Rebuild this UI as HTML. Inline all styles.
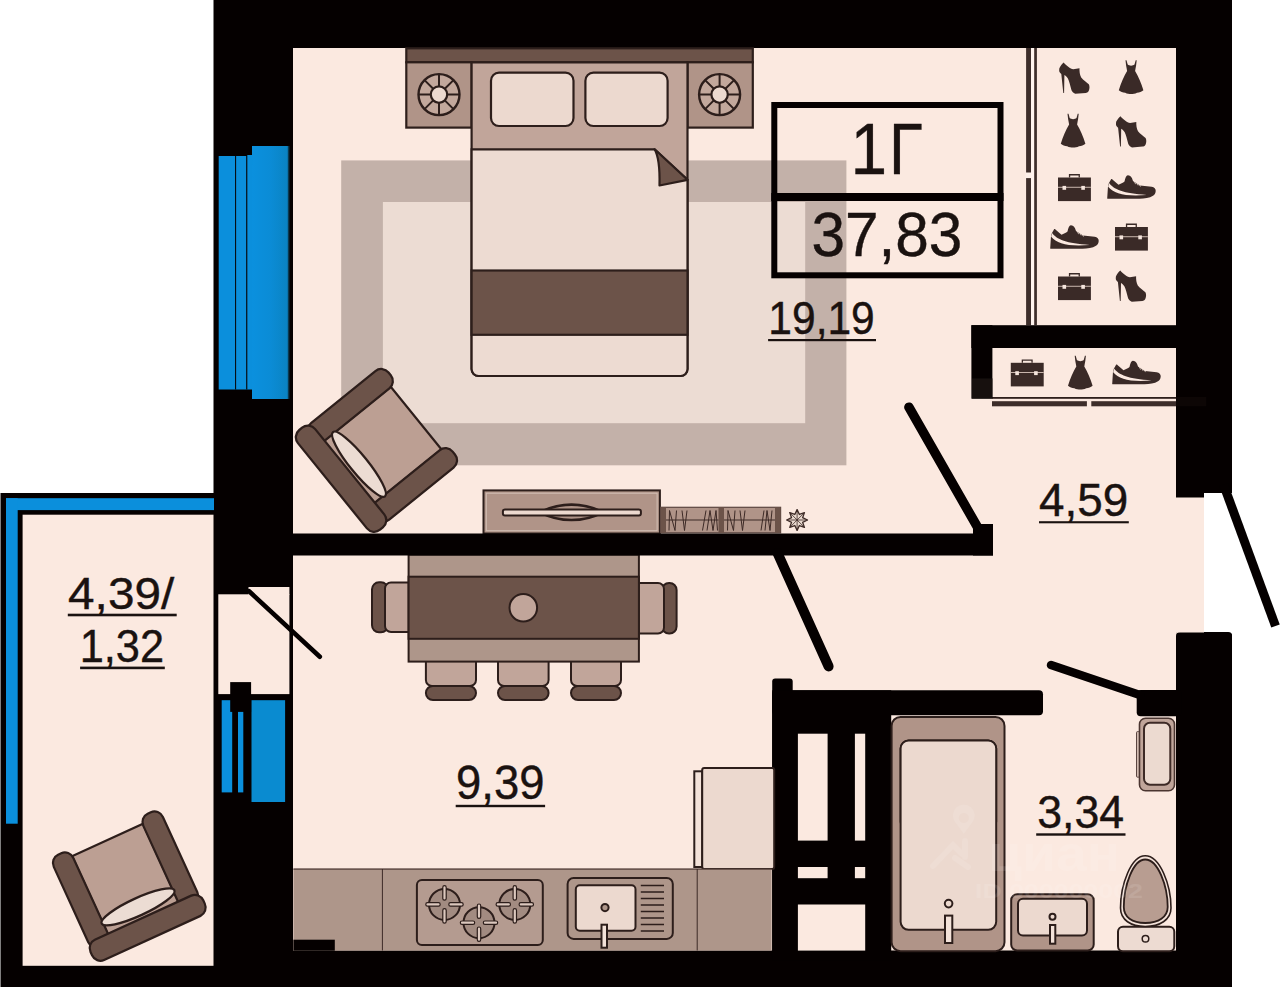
<!DOCTYPE html>
<html><head><meta charset="utf-8">
<style>
html,body{margin:0;padding:0;background:#fff;width:1280px;height:987px;overflow:hidden}
svg{display:block}
text{font-family:"Liberation Sans",sans-serif}
</style></head>
<body>
<svg width="1280" height="987" viewBox="0 0 1280 987">
<defs>
<linearGradient id="bluegrad" x1="0" y1="0" x2="1" y2="0"><stop offset="0" stop-color="#0b90de"/><stop offset="0.5" stop-color="#0b8cd6"/><stop offset="1" stop-color="#0a83c2"/></linearGradient>
<g id="chair" stroke="#2d1e1b" stroke-width="2.2" stroke-linejoin="round">
<rect x="-39" y="-43" width="78" height="86" fill="#bc9f93"/>
<rect x="-60" y="-50" width="21.5" height="98" rx="9" fill="#6c5349"/>
<rect x="38.5" y="-50" width="21.5" height="98" rx="9" fill="#6c5349"/>
<ellipse cx="0" cy="28" rx="40" ry="8.5" fill="#ecdcd3"/>
<rect x="-62" y="39.5" width="124" height="21.5" rx="9" fill="#6c5349"/>
</g>
<g id="heel" fill="#3a2a27">
<path d="M4.5,0 C7,3 11,6.3 14.1,6.7 L20.3,5.8 C20.2,9 20.5,12 22,15 C24,18 28,20 29.6,21.8 C30.6,23.5 30.5,26.5 29.5,28.5 C28.5,30 27.5,30.4 26.6,30.4 L16,31.2 C14,30.5 13,29 12.3,27.7 C11,23 10,18.5 8.7,16.1 C7.5,14 6.2,13 5.2,12.5 L4.9,30.4 L4.1,30.4 L2.1,11.6 C1,10.5 0.1,9.5 0,8.5 C0,6.5 0.1,5.8 0.3,5.4 C1.5,3 3,1 4.5,0 Z"/>
</g>
<g id="dress" fill="#3a2a27">
<path d="M7,0.2 L8,0.2 L9.2,4.5 C10.8,6 14.4,6 16,4.5 L17.2,0.2 L18.2,0.2 L17.6,5.5 C17.2,7.5 16.8,9.5 16.6,11 C19.8,16.5 22.8,23 24.9,30.2 C23,31.6 21,32.6 18.5,32.8 C16.5,34 14.5,34 12.6,34 C10.6,34 8.6,34 6.7,32.8 C4.2,32.6 2.2,31.6 0.3,30.2 C2.4,23 5.4,16.5 8.6,11 C8.4,9.5 8,7.5 7.6,5.5 Z"/>
</g>
<g id="case">
<path d="M10.9,0 V-3.4 H21.9 V0 H20.6 V-2.1 H12.2 V0 Z" fill="#3a2a27"/>
<rect x="0" y="0" width="32.9" height="23.6" fill="#3a2a27"/>
<rect x="0" y="9.3" width="32.9" height="0.9" fill="#d9c6bd"/>
<rect x="4.5" y="8.4" width="3.6" height="3.9" fill="#f4e4dc"/>
<rect x="23.3" y="8.4" width="3.6" height="3.9" fill="#f4e4dc"/>
</g>
<g id="sneaker">
<path d="M7.7,30.5 L8.6,16.5 L11.6,11.2 C12,10.9 12.6,11 12.9,11.4 L19,16.7 C21,15.8 23.5,14.8 25,13.4 C25.8,10 26.8,7.4 28.3,7.3 C30,7.3 31.6,8.6 32.5,10.3 L33.5,13 L40.5,17.5 L52.2,18.7 C54.8,19.2 56.4,20.8 56.2,23 C56,25.5 55,27 53.5,27.8 C50,30 45,30.8 40,30.8 L8,30.8 Z" fill="#3a2a27"/>
<path d="M9.2,14.6 C14,21.5 24,25.6 47.2,27 C26,28.6 14.5,26 8.7,18.8 Z" fill="#fbe9e0"/>
<path d="M34.4,12.6 L36.2,16.2 M36.8,13.9 L38.6,17.4 M39.2,15.2 L41,18.6" stroke="#fbe9e0" stroke-width="0.7"/>
</g>
</defs>
<rect x="0" y="0" width="1280" height="987" fill="#ffffff"/>
<!-- main black block -->
<rect x="213.5" y="0" width="1018.5" height="987" fill="#050000"/>
<!-- main floor -->
<rect x="293" y="48" width="883" height="902.5" fill="#fbe9e0"/>
<!-- entrance opening -->
<rect x="1176" y="497.5" width="28" height="135" fill="#fbe9e0"/>
<rect x="1204" y="493" width="76" height="139" fill="#ffffff"/>
<path d="M1176.2,632 v4 a4,4 0 0 1 4,-4 Z" fill="#fbe9e0"/>
<path d="M1232.2,632 v4 a4,4 0 0 0 -4,-4 Z" fill="#ffffff"/>

<!-- balcony -->
<rect x="0.5" y="493" width="213.5" height="494" fill="#050000"/>
<rect x="6" y="498.2" width="208" height="11.9" fill="#0b8fdc"/>
<rect x="6" y="498.2" width="11.7" height="325.5" fill="#0b8fdc"/>
<rect x="22.6" y="514.7" width="190.9" height="451.1" fill="#fbe9e0"/>
<use href="#chair" transform="translate(126,880.5) rotate(-24.6) scale(1,1.035)"/>

<!-- upper window -->
<rect x="218.7" y="156" width="33.3" height="233.5" fill="#0b8fdc"/>
<rect x="252" y="146" width="36" height="253" fill="url(#bluegrad)"/>
<rect x="247" y="155" width="5.5" height="10" fill="#0b8fdc"/>
<rect x="235.1" y="156" width="1" height="233.5" fill="#050000"/>
<rect x="246.2" y="155" width="1.1" height="234.5" fill="#050000"/>
<rect x="287.8" y="146" width="1.6" height="253" fill="#0b3a50"/>

<!-- balcony door opening -->
<rect x="218.3" y="594.3" width="71.1" height="99.8" fill="#fbe9e0"/>
<rect x="248.5" y="587" width="40.9" height="8" fill="#fbe9e0"/>

<!-- lower window -->
<rect x="221.7" y="700.2" width="10.5" height="92.2" fill="#0b8fdc"/>
<rect x="238" y="700.2" width="5.3" height="92.2" fill="#0b8fdc"/>
<rect x="251.5" y="700.2" width="33.6" height="101.8" fill="#0a8bd0"/>
<rect x="230.2" y="682.1" width="20.9" height="29.8" fill="#050000"/>


<!-- rug -->
<rect x="341.2" y="160.4" width="505.2" height="304.9" fill="#c3b1a9"/>
<rect x="382.9" y="202" width="422.3" height="221.2" fill="#ecdcd3"/>

<!-- bed -->
<g stroke="#2d1e1b" stroke-width="2.2">
<rect x="406.3" y="48.3" width="346.5" height="14" fill="#6c5349"/>
<rect x="406.3" y="62.3" width="65.3" height="65.3" fill="#b09488"/>
<rect x="687.5" y="62.3" width="65.3" height="65.3" fill="#b09488"/>
<path d="M471.6,62.3 H687.5 V369 a7,7 0 0 1 -7,7 H478.6 a7,7 0 0 1 -7,-7 Z" fill="#c1a59a"/>
<rect x="491" y="72.7" width="82.5" height="53.3" rx="8" fill="#ecd9cf"/>
<rect x="585.4" y="72.7" width="82.2" height="53.3" rx="8" fill="#ecd9cf"/>
<path d="M471.6,149.3 H654.6 L687.5,179.8 V369 a7,7 0 0 1 -7,7 H478.6 a7,7 0 0 1 -7,-7 Z" fill="#eddbd2"/>
<rect x="471.6" y="270.5" width="215.9" height="64.3" fill="#6c5349"/>
<path d="M654.6,149.3 C658.5,156 660,165 659.5,185.5 L687.5,179.8 Z" fill="#6c5349" stroke-linejoin="round"/>
</g>
<g id="lamp" stroke="#2d1e1b" fill="none">
<circle cx="439" cy="94.6" r="20.5" stroke-width="2.4" fill="#c3a89c"/>
<circle cx="439" cy="94.6" r="8.2" stroke-width="2.2" fill="#ecd9cf"/>
<path d="M439,74.1V86.4 M439,102.8V115.1 M418.5,94.6H430.8 M447.2,94.6H459.5 M424.5,80.1L433.2,88.8 M444.8,100.4L453.5,109.1 M453.5,80.1L444.8,88.8 M433.2,100.4L424.5,109.1" stroke-width="2"/>
</g>
<use href="#lamp" x="280.6" y="0"/>

<!-- tv stand -->
<g stroke="#2d1e1b" stroke-width="2">
<rect x="483.5" y="490.4" width="176.4" height="43.1" fill="#b09488"/>
<rect x="486.3" y="493.2" width="170.8" height="37.5" fill="none" stroke="#d3bfb5" stroke-width="1"/>
<path d="M540,512.3 C560,502 583,502 603,512.3 C583,522.6 560,522.6 540,512.3 Z" fill="#b09488" stroke-width="2.6"/>
<rect x="502.9" y="509.5" width="138" height="6" rx="2" fill="#ecd9cf"/>
<rect x="660.6" y="507.3" width="120" height="25.5" fill="#b09488" stroke="#5a4540" stroke-width="1.2"/>
</g>
<g fill="#6c5349">
<rect x="660.6" y="507.3" width="5.4" height="25.5"/>
<rect x="718.5" y="507.3" width="5.5" height="25.5"/>
<rect x="775" y="507.3" width="5.6" height="25.5"/>
</g>
<path d="M666,520 H718.5 M724,520 H775 M669,530.5 L669.5,510.5 L675,530.5 L676.5,510.5 M682,510.5 L684.5,530.5 L687,510.5 M702.5,530.5 L706,510.5 M707,530.5 L710,510.5 L713,530.5 L716,510.5 L717.5,530.5 M727.5,530.5 L728,510.5 L733.5,530.5 L735,510.5 M740,510.5 L742.5,530.5 L745,510.5 M761,530.5 L764,510.5 M765,530.5 L767,510.5 L770,530.5 L772,510.5" stroke="#3d2a26" stroke-width="1" fill="none"/>
<polygon points="797.10,509.60 799.40,514.46 804.45,512.65 802.64,517.70 807.50,520.00 802.64,522.30 804.45,527.35 799.40,525.54 797.10,530.40 794.80,525.54 789.75,527.35 791.56,522.30 786.70,520.00 791.56,517.70 789.75,512.65 794.80,514.46" fill="#eadad0" stroke="#3d2a26" stroke-width="1.3" stroke-linejoin="round"/>
<path d="M797.1,520 L797.10,509.60 M797.1,520 L804.45,512.65 M797.1,520 L807.50,520.00 M797.1,520 L804.45,527.35 M797.1,520 L797.10,530.40 M797.1,520 L789.75,527.35 M797.1,520 L786.70,520.00 M797.1,520 L789.75,512.65 " stroke="#3d2a26" stroke-width="0.8"/>


<!-- label box -->
<rect x="774.3" y="105" width="226.2" height="170.3" fill="none" stroke="#050000" stroke-width="6"/>
<rect x="771.3" y="193" width="232.2" height="8" fill="#050000"/>


<!-- chairs -->
<use href="#chair" transform="translate(381.5,446) rotate(51) scale(1.035)"/>

<!-- wardrobe -->
<rect x="1031" y="48" width="3.2" height="277.2" fill="#fff3ee"/>
<rect x="1026.1" y="48" width="4.9" height="277.2" fill="#3d2d2a"/>
<rect x="1034.2" y="48" width="2.7" height="277.2" fill="#3d2d2a"/>
<rect x="1025.5" y="172.5" width="5.8" height="5.6" fill="#fdf0ea"/>
<use href="#heel" x="1059.2" y="62.5"/>
<use href="#dress" x="1118.5" y="60"/>
<use href="#dress" x="1060.5" y="113.5"/>
<use href="#heel" x="1116" y="116.2"/>
<use href="#case" x="1058" y="177.5"/>
<use href="#sneaker" x="1099.5" y="168"/>
<use href="#sneaker" x="1042.5" y="218"/>
<use href="#case" x="1115" y="227"/>
<use href="#case" x="1058" y="276.5"/>
<use href="#heel" x="1115.8" y="270.5"/>
<use href="#case" x="1010.8" y="362.8"/>
<use href="#dress" x="1067.7" y="355.5"/>
<use href="#sneaker" x="1104.5" y="353.5"/>
<rect x="992" y="397" width="184.2" height="1.8" fill="#2e1f1c"/>
<rect x="992" y="401.2" width="94.9" height="5.1" fill="#3d2d2a"/>
<rect x="1091.3" y="401.2" width="84.9" height="5.1" fill="#3d2d2a"/>
<rect x="1176.2" y="397" width="30" height="9.3" fill="#0d0605"/>

<!-- dining -->
<g stroke="#2d1e1b" stroke-width="2">
<rect x="372" y="582.3" width="16" height="50" rx="7" fill="#6c5349"/>
<rect x="385" y="582.5" width="30" height="49.5" rx="6" fill="#c1a59a"/>
<rect x="662" y="583" width="14.6" height="50.5" rx="7" fill="#6c5349"/>
<rect x="634" y="583" width="30" height="50.5" rx="6" fill="#c1a59a"/>
<rect x="425.9" y="655" width="50.1" height="31" rx="6" fill="#c1a59a"/>
<rect x="498" y="655" width="50.6" height="31" rx="6" fill="#c1a59a"/>
<rect x="571" y="655" width="50" height="31" rx="6" fill="#c1a59a"/>
<rect x="425.9" y="686" width="50.1" height="14" rx="7" fill="#6c5349"/>
<rect x="498" y="686" width="50.6" height="14" rx="7" fill="#6c5349"/>
<rect x="571" y="686" width="50" height="14" rx="7" fill="#6c5349"/>
<rect x="408.6" y="554.6" width="230.3" height="107" fill="#ae968a"/>
<rect x="408.6" y="576.7" width="230.3" height="62.1" fill="#6c5349"/>
<circle cx="523.3" cy="607.7" r="13.8" fill="#c1a59a"/>
</g>

<!-- interior walls -->
<rect x="293" y="533.5" width="700" height="22" fill="#050000"/>
<rect x="973" y="524" width="20" height="31.5" fill="#050000"/>
<rect x="971.4" y="325.2" width="204.8" height="22.8" fill="#050000"/>
<rect x="971.4" y="325.2" width="21" height="73.5" fill="#050000"/>
<rect x="972" y="378.4" width="20.4" height="20" fill="#17100e"/>

<!-- bathroom / shaft -->
<rect x="772.2" y="690.3" width="270.8" height="25" rx="4" fill="#050000"/>
<rect x="772.2" y="678.5" width="20.5" height="280" rx="3" fill="#050000"/>
<rect x="772.2" y="690.3" width="119" height="270" fill="#050000"/>
<rect x="797.9" y="733.7" width="29.7" height="106.9" fill="#fbe9e0"/>
<rect x="854.9" y="733.7" width="10.3" height="106.9" fill="#fbe9e0"/>
<rect x="797.9" y="867" width="29.7" height="11.2" fill="#fbe9e0"/>
<rect x="854.9" y="867" width="10.3" height="11.2" fill="#fbe9e0"/>
<rect x="797.9" y="904.5" width="67.3" height="46.1" fill="#fbe9e0"/>
<rect x="1136.7" y="690" width="45" height="26.3" rx="4" fill="#050000"/>


<!-- kitchen -->
<g stroke="#2d1e1b" stroke-width="2">
<rect x="694.3" y="771.3" width="8" height="95.7" fill="#f3e2d9"/>
<rect x="702.2" y="767.9" width="72" height="101" rx="2" fill="#ecd9cf"/>
</g>
<rect x="293.4" y="869" width="478.2" height="81.5" fill="#ae968a"/>
<rect x="293.4" y="868.4" width="478.2" height="1.3" fill="#4e3a35"/>
<rect x="381.9" y="869" width="1" height="81.5" fill="#3d2a26"/>
<rect x="696.7" y="869" width="1" height="81.5" fill="#3d2a26"/>
<g stroke="#2d1e1b" stroke-width="2" fill="#ae968a">
<rect x="416.9" y="880" width="125.9" height="65" rx="5" fill="#b49b90"/>
<circle cx="444.5" cy="904.4" r="15.5" fill="#a28b81"/>
<circle cx="479" cy="922.7" r="15.5" fill="#a28b81"/>
<circle cx="514.8" cy="904.4" r="15.5" fill="#a28b81"/>
<path d="M427.5,904.4 h11 M450.5,904.4 h11 M444.5,887.4 v11 M444.5,910.4 v11 M462,922.7 h11 M485,922.7 h11 M479,905.7 v11 M479,928.7 v11 M497.79999999999995,904.4 h11 M520.8,904.4 h11 M514.8,887.4 v11 M514.8,910.4 v11 " stroke="#2d1e1b" stroke-width="4.6" stroke-linecap="round"/>
<path d="M427.5,904.4 h11 M450.5,904.4 h11 M444.5,887.4 v11 M444.5,910.4 v11 M462,922.7 h11 M485,922.7 h11 M479,905.7 v11 M479,928.7 v11 M497.79999999999995,904.4 h11 M520.8,904.4 h11 M514.8,887.4 v11 M514.8,910.4 v11 " stroke="#dcc8be" stroke-width="2.2" stroke-linecap="round"/>
<rect x="567.6" y="878" width="105.2" height="60.9" rx="6"/>
<rect x="575.8" y="885.3" width="59.7" height="45.5" rx="4" fill="#ecd9cf"/>
<circle cx="605" cy="907.6" r="3.6" fill="#ae968a"/>
<rect x="601.5" y="924.7" width="5.5" height="23" fill="#f3e2d9"/>
<path d="M640.8,885.5 h23.2 M640.8,892 h23.2 M640.8,898.5 h23.2 M640.8,905 h23.2 M640.8,911.5 h23.2 M640.8,918 h23.2 M640.8,924.5 h23.2 M640.8,931 h23.2" stroke-width="1.6"/>
</g>

<rect x="293.4" y="939.7" width="41.4" height="11" fill="#050000"/>
<!-- bathroom -->
<g stroke="#2d1e1b" stroke-width="2">
<rect x="891.6" y="716.9" width="112.9" height="234.3" rx="9" fill="#b09488"/>
<rect x="900.6" y="740.5" width="95.6" height="89.3" rx="8" fill="#ecd9cf"/>
<rect x="900.6" y="740.5" width="95.6" height="189.3" rx="8" fill="#ecd9cf"/>
<circle cx="948.6" cy="903.6" r="3.8" fill="#ecd9cf"/>
<rect x="945" y="915.6" width="7.3" height="27.4" fill="#f3e2d9"/>
<rect x="1011.2" y="894.2" width="82.5" height="56.3" rx="6" fill="#b09488"/>
<rect x="1018" y="898.7" width="69" height="36.8" rx="5" fill="#ecd9cf"/>
<circle cx="1052.5" cy="916.7" r="3" fill="#ecd9cf"/>
<rect x="1050" y="925" width="5.3" height="18.7" fill="#f3e2d9"/>
<rect x="1118" y="926.8" width="56.3" height="24.4" rx="5" fill="#eddbd2"/>
<circle cx="1145.5" cy="938.8" r="3.3" fill="#eddbd2" stroke-width="1.5"/>
<path d="M1145.2,855.8 C1131,855.8 1120.5,885 1120.5,908 C1120.5,920 1131,926.5 1145.2,926.5 C1159.5,926.5 1171,920 1171,908 C1171,885 1160,855.8 1145.2,855.8 Z" fill="#f3e2d9" stroke-width="1.6"/>
<path d="M1145.2,859.5 C1133,859.5 1123.8,886 1123.8,907 C1123.8,917 1132,923 1145.2,923 C1158.5,923 1167.7,917 1167.7,907 C1167.7,886 1158,859.5 1145.2,859.5 Z" fill="#b89d91" stroke-width="1.8"/>
<rect x="1136.5" y="731.6" width="3.1" height="45.6" rx="1" fill="#d3bcb2" stroke="#5a4540" stroke-width="1"/>
<rect x="1139.5" y="718.2" width="35" height="72.6" rx="6" fill="#c0a59a" stroke="#4a3530" stroke-width="1.6"/>
<rect x="1144" y="722.8" width="26.3" height="62" rx="6" fill="#ecdad0" stroke="#3d2a26" stroke-width="2"/>
</g>

<!-- doors -->
<g stroke="#050000" stroke-linecap="round" fill="none">
<line x1="249.1" y1="591.3" x2="319.8" y2="656.7" stroke-width="4.6"/>
<line x1="908.9" y1="407.2" x2="977.8" y2="527.7" stroke-width="9.5"/>
<line x1="777.5" y1="553" x2="828.6" y2="666.4" stroke-width="10"/>
<line x1="1051" y1="665" x2="1140.6" y2="695.2" stroke-width="8.5"/>
<line x1="1223.5" y1="484.5" x2="1275.5" y2="626" stroke-width="9" stroke-linecap="butt"/>
</g>


<!-- texts -->
<g fill="#1a1210" stroke="#1a1210" stroke-width="0.4">
<text x="850.6" y="174.1" font-size="73.0" textLength="36.6" lengthAdjust="spacingAndGlyphs">1</text>
<text x="889.0" y="174.1" font-size="73.0" textLength="33.5" lengthAdjust="spacingAndGlyphs">Г</text>
<text x="811.4" y="256.0" font-size="62.1" textLength="151.0" lengthAdjust="spacingAndGlyphs">37,83</text>
<text x="768.3" y="333.6" font-size="46.2" textLength="106.5" lengthAdjust="spacingAndGlyphs">19,19</text>
<text x="1039.1" y="515.6" font-size="46.2" textLength="89.2" lengthAdjust="spacingAndGlyphs">4,59</text>
<text x="68.1" y="608.5" font-size="44.2" textLength="106.1" lengthAdjust="spacingAndGlyphs">4,39/</text>
<text x="79.7" y="661.6" font-size="47.1" textLength="84.3" lengthAdjust="spacingAndGlyphs">1,32</text>
<text x="456.1" y="799.3" font-size="47.8" textLength="88.4" lengthAdjust="spacingAndGlyphs">9,39</text>
<text x="1037.2" y="828.0" font-size="47.1" textLength="86.8" lengthAdjust="spacingAndGlyphs">3,34</text>
</g>
<g fill="#1a1210">
<rect x="768.1" y="339" width="107.9" height="2.2"/>
<rect x="1039" y="521.2" width="89.8" height="2.1"/>
<rect x="67.8" y="613.7" width="108.9" height="2.6"/>
<rect x="80.1" y="666.6" width="84.7" height="2.6"/>
<rect x="455.7" y="804.8" width="89.4" height="2.4"/>
<rect x="1036.2" y="833.3" width="89.3" height="2.4"/>
</g>


<!-- watermark -->
<g fill="#ffffff" opacity="0.1">
<text x="988" y="871" font-size="50" textLength="132" lengthAdjust="spacingAndGlyphs" font-weight="bold">циан</text>
<text x="975" y="898" font-size="21" textLength="168" lengthAdjust="spacingAndGlyphs" font-weight="bold">ID 000000002</text>
<path d="M963.8,834 L955,822 A11,11 0 1 1 972.6,822 Z M963.8,813 a5,5 0 1 0 0.01,0 Z" fill-rule="evenodd"/>
<path d="M933,866 L953,845 L962,854 M965,841 V857 M955,858 L968,867" stroke="#ffffff" stroke-width="6" fill="none" stroke-linecap="round"/>
</g>

</svg>
</body></html>
